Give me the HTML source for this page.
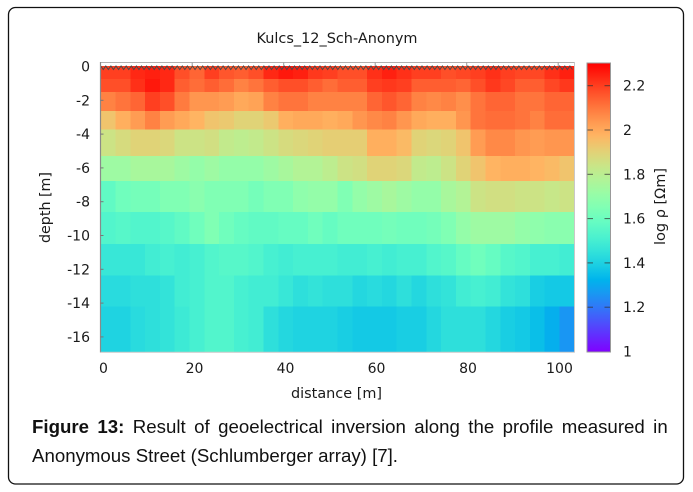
<!DOCTYPE html>
<html>
<head>
<meta charset="utf-8">
<style>
  html,body{margin:0;padding:0;background:#fff;}
  svg{display:block;}
  .tk{font-family:"DejaVu Sans","Liberation Sans",sans-serif;font-size:14px;fill:#1a1a1a;}
  .cap{font-family:"Liberation Sans",Arial,sans-serif;font-size:18px;fill:#111;}
</style>
</head>
<body>
<svg id="s" width="693" height="492" viewBox="0 0 693 492" xmlns="http://www.w3.org/2000/svg">
  <defs>
    <linearGradient id="cb" x1="0" y1="1" x2="0" y2="0">
      <stop offset="0" stop-color="#8000ff"/>
      <stop offset="0.05" stop-color="#6628fe"/>
      <stop offset="0.1" stop-color="#4d4ffc"/>
      <stop offset="0.15" stop-color="#3374f8"/>
      <stop offset="0.2" stop-color="#1a96f2"/>
      <stop offset="0.25" stop-color="#00b4ec"/>
      <stop offset="0.3" stop-color="#1acee3"/>
      <stop offset="0.35" stop-color="#33e3d9"/>
      <stop offset="0.4" stop-color="#4df2ce"/>
      <stop offset="0.45" stop-color="#66fcc2"/>
      <stop offset="0.5" stop-color="#80ffb4"/>
      <stop offset="0.55" stop-color="#99fca5"/>
      <stop offset="0.6" stop-color="#b3f296"/>
      <stop offset="0.65" stop-color="#cce385"/>
      <stop offset="0.7" stop-color="#e6ce74"/>
      <stop offset="0.75" stop-color="#ffb462"/>
      <stop offset="0.8" stop-color="#ff964f"/>
      <stop offset="0.85" stop-color="#ff743b"/>
      <stop offset="0.9" stop-color="#ff4f28"/>
      <stop offset="0.95" stop-color="#ff2814"/>
      <stop offset="1" stop-color="#ff0000"/>
    </linearGradient>
  </defs>
  <rect x="0" y="0" width="693" height="492" fill="#fff"/>
  <!-- outer rounded frame -->
  <rect x="8.5" y="7.5" width="675" height="476.5" rx="7" ry="7" fill="none" stroke="#111" stroke-width="1.3"/>

  <!-- title -->
  <text class="tk" x="337" y="43" text-anchor="middle" textLength="161" lengthAdjust="spacingAndGlyphs">Kulcs_12_Sch-Anonym</text>

  <!-- heatmap cells -->
  <g id="cells" shape-rendering="crispEdges"></g>

  <!-- top band -->
  <rect x="100.7" y="62.5" width="473.5" height="3.5" fill="#fff"/>
  <line x1="100.5" y1="62.5" x2="574.5" y2="62.5" stroke="#b0b0b0" stroke-width="1"/>
  <polyline id="zig" fill="none" stroke="#4a4a4a" stroke-width="1" points=""/>
  <!-- frame -->
  <line x1="100.5" y1="62" x2="100.5" y2="352.5" stroke="#8a8a8a" stroke-width="1.2"/>
  <line x1="100.5" y1="352.3" x2="574.5" y2="352.3" stroke="#c8c8c8" stroke-width="1"/>
  <line x1="574.5" y1="62" x2="574.5" y2="352.5" stroke="#c8c8c8" stroke-width="1"/>
  <!-- top ticks -->
  <g stroke="#999" stroke-width="1">
    <line x1="192.2" y1="62.5" x2="192.2" y2="66"/>
    <line x1="283.7" y1="62.5" x2="283.7" y2="66"/>
    <line x1="375.2" y1="62.5" x2="375.2" y2="66"/>
    <line x1="466.7" y1="62.5" x2="466.7" y2="66"/>
    <line x1="558.2" y1="62.5" x2="558.2" y2="66"/>
  </g>
  <!-- left ticks -->
  <g stroke="#777" stroke-width="1">
    <line x1="100.5" y1="100.3" x2="103.5" y2="100.3"/>
    <line x1="100.5" y1="134.1" x2="103.5" y2="134.1"/>
    <line x1="100.5" y1="167.9" x2="103.5" y2="167.9"/>
    <line x1="100.5" y1="201.7" x2="103.5" y2="201.7"/>
    <line x1="100.5" y1="235.5" x2="103.5" y2="235.5"/>
    <line x1="100.5" y1="269.3" x2="103.5" y2="269.3"/>
    <line x1="100.5" y1="303.1" x2="103.5" y2="303.1"/>
    <line x1="100.5" y1="336.9" x2="103.5" y2="336.9"/>
  </g>

  <!-- y tick labels -->
  <g class="tk" text-anchor="end">
    <text x="90" y="71.5">0</text>
    <text x="90" y="105.3">-2</text>
    <text x="90" y="139.1">-4</text>
    <text x="90" y="172.9">-6</text>
    <text x="90" y="206.7">-8</text>
    <text x="90" y="240.5">-10</text>
    <text x="90" y="274.3">-12</text>
    <text x="90" y="308.1">-14</text>
    <text x="90" y="341.9">-16</text>
  </g>
  <text class="tk" transform="translate(50,207.5) rotate(-90)" text-anchor="middle" textLength="71" lengthAdjust="spacingAndGlyphs">depth [m]</text>

  <!-- x tick labels -->
  <g class="tk" text-anchor="middle">
    <text x="103.5" y="373">0</text>
    <text x="194.5" y="373">20</text>
    <text x="285.5" y="373">40</text>
    <text x="376.5" y="373">60</text>
    <text x="468" y="373">80</text>
    <text x="559.5" y="373">100</text>
  </g>
  <text class="tk" x="336.5" y="398" text-anchor="middle" textLength="91" lengthAdjust="spacingAndGlyphs">distance [m]</text>

  <!-- colorbar -->
  <rect x="587" y="63" width="23.5" height="289" fill="url(#cb)" stroke="#999" stroke-width="1"/>
  <g stroke="#333" stroke-width="1" stroke-opacity="0.75">
    <line x1="587.5" y1="85.7" x2="593" y2="85.7"/><line x1="604.5" y1="85.7" x2="610" y2="85.7"/>
    <line x1="587.5" y1="130" x2="593" y2="130"/><line x1="604.5" y1="130" x2="610" y2="130"/>
    <line x1="587.5" y1="174.3" x2="593" y2="174.3"/><line x1="604.5" y1="174.3" x2="610" y2="174.3"/>
    <line x1="587.5" y1="218.6" x2="593" y2="218.6"/><line x1="604.5" y1="218.6" x2="610" y2="218.6"/>
    <line x1="587.5" y1="262.9" x2="593" y2="262.9"/><line x1="604.5" y1="262.9" x2="610" y2="262.9"/>
    <line x1="587.5" y1="307.2" x2="593" y2="307.2"/><line x1="604.5" y1="307.2" x2="610" y2="307.2"/>
  </g>
  <g class="tk">
    <text x="623" y="90.7">2.2</text>
    <text x="623" y="135">2</text>
    <text x="623" y="179.3">1.8</text>
    <text x="623" y="223.6">1.6</text>
    <text x="623" y="267.9">1.4</text>
    <text x="623" y="312.2">1.2</text>
    <text x="623" y="356.5">1</text>
  </g>
  <text class="tk" transform="translate(665,206.5) rotate(-90)" text-anchor="middle" textLength="77" lengthAdjust="spacingAndGlyphs">log ρ [Ωm]</text>

  <!-- caption -->
  <g class="cap">
    <text x="32" y="433" font-weight="bold" textLength="57" lengthAdjust="spacingAndGlyphs">Figure</text>
    <text x="97.4" y="433" font-weight="bold" textLength="27" lengthAdjust="spacingAndGlyphs">13:</text>
    <text x="132.8" y="433" textLength="52.9" lengthAdjust="spacingAndGlyphs">Result</text>
    <text x="194.1" y="433" textLength="15.6" lengthAdjust="spacingAndGlyphs">of</text>
    <text x="218.1" y="433" textLength="104.7" lengthAdjust="spacingAndGlyphs">geoelectrical</text>
    <text x="331.2" y="433" textLength="74.7" lengthAdjust="spacingAndGlyphs">inversion</text>
    <text x="414.3" y="433" textLength="45.6" lengthAdjust="spacingAndGlyphs">along</text>
    <text x="468.3" y="433" textLength="25.9" lengthAdjust="spacingAndGlyphs">the</text>
    <text x="502.6" y="433" textLength="50.8" lengthAdjust="spacingAndGlyphs">profile</text>
    <text x="561.8" y="433" textLength="83" lengthAdjust="spacingAndGlyphs">measured</text>
    <text x="653.2" y="433" textLength="14.5" lengthAdjust="spacingAndGlyphs">in</text>
    <text x="32" y="462" textLength="366" lengthAdjust="spacingAndGlyphs">Anonymous Street (Schlumberger array) [7].</text>
  </g>
</svg>
<script>
(function(){
  var T=[
  [0.92,0.92,0.95,0.96,0.95,0.9,0.87,0.92,0.89,0.88,0.9,0.95,0.97,0.96,0.93,0.92,0.9,0.9,0.94,0.96,0.94,0.92,0.92,0.9,0.91,0.92,0.94,0.92,0.91,0.91,0.94,0.96],
  [0.9,0.9,0.94,0.97,0.95,0.88,0.86,0.88,0.86,0.83,0.85,0.88,0.9,0.9,0.88,0.86,0.88,0.88,0.92,0.93,0.92,0.88,0.88,0.88,0.87,0.9,0.93,0.91,0.88,0.88,0.91,0.93],
  [0.83,0.85,0.87,0.92,0.9,0.84,0.8,0.8,0.79,0.77,0.78,0.83,0.85,0.85,0.83,0.83,0.83,0.83,0.87,0.89,0.87,0.83,0.82,0.83,0.81,0.85,0.87,0.87,0.85,0.85,0.87,0.87],
  [0.72,0.76,0.79,0.83,0.79,0.77,0.75,0.72,0.71,0.69,0.69,0.71,0.76,0.77,0.77,0.76,0.77,0.8,0.82,0.83,0.8,0.77,0.76,0.76,0.8,0.85,0.86,0.86,0.85,0.83,0.86,0.86],
  [0.65,0.67,0.69,0.69,0.68,0.65,0.65,0.66,0.63,0.62,0.63,0.65,0.67,0.68,0.69,0.7,0.7,0.7,0.76,0.76,0.74,0.69,0.68,0.69,0.72,0.79,0.82,0.82,0.8,0.79,0.8,0.8],
  [0.56,0.56,0.58,0.58,0.58,0.56,0.54,0.56,0.54,0.54,0.54,0.56,0.58,0.6,0.6,0.62,0.65,0.66,0.69,0.69,0.68,0.63,0.62,0.65,0.69,0.72,0.75,0.76,0.76,0.75,0.74,0.72],
  [0.44,0.47,0.48,0.48,0.5,0.5,0.52,0.5,0.5,0.5,0.48,0.5,0.5,0.53,0.54,0.54,0.5,0.54,0.56,0.58,0.56,0.54,0.54,0.58,0.6,0.65,0.66,0.66,0.65,0.65,0.64,0.65],
  [0.41,0.42,0.41,0.41,0.42,0.44,0.47,0.5,0.47,0.45,0.44,0.44,0.45,0.45,0.47,0.45,0.47,0.47,0.47,0.48,0.47,0.47,0.48,0.5,0.54,0.56,0.56,0.56,0.54,0.53,0.52,0.52],
  [0.36,0.36,0.36,0.38,0.39,0.38,0.39,0.41,0.42,0.42,0.41,0.39,0.38,0.39,0.39,0.39,0.38,0.38,0.39,0.38,0.39,0.39,0.41,0.42,0.45,0.47,0.45,0.42,0.41,0.39,0.39,0.38],
  [0.33,0.33,0.34,0.34,0.35,0.38,0.39,0.41,0.41,0.39,0.38,0.38,0.36,0.34,0.35,0.34,0.34,0.32,0.33,0.32,0.34,0.32,0.34,0.35,0.38,0.39,0.38,0.35,0.34,0.3,0.29,0.29],
  [0.31,0.31,0.33,0.34,0.35,0.37,0.39,0.41,0.41,0.39,0.38,0.34,0.32,0.31,0.31,0.31,0.3,0.29,0.29,0.29,0.3,0.3,0.32,0.34,0.34,0.34,0.32,0.3,0.29,0.27,0.24,0.2]
  ];
  var Y=[66,79,92,111,129.5,156,181,212,244,275.5,306.5,352];
  var x0=100.7, cw=(574.3-100.7)/32;
  var NS="http://www.w3.org/2000/svg";
  var g=document.getElementById("cells");
  function col(t){
    t=Math.max(0,Math.min(1,t));
    var r=Math.min(1,Math.abs(2*t-0.5)), gg=Math.sin(Math.PI*t), b=Math.cos(Math.PI*t/2);
    function h(v){v=Math.round(Math.max(0,Math.min(1,v))*255);return (v<16?"0":"")+v.toString(16);}
    return "#"+h(r)+h(gg)+h(b);
  }
  for(var i=0;i<11;i++){
    for(var j=0;j<32;j++){
      var r=document.createElementNS(NS,"rect");
      var xa=x0+cw*j, xb=(j==31)?574.3:x0+cw*(j+1)+0.6;
      r.setAttribute("x",xa.toFixed(2));
      r.setAttribute("y",Y[i]);
      r.setAttribute("width",(xb-xa).toFixed(2));
      r.setAttribute("height",(Y[i+1]-Y[i]+(i<10?0.6:0)).toFixed(2));
      r.setAttribute("fill",col(T[i][j]));
      g.appendChild(r);
    }
  }
  var pts=[], p=5.1, x=100.7, k=0;
  while(x<=574.3){ pts.push(x.toFixed(2)+","+(k%2?69.5:66)); x+=p/2; k++; }
  document.getElementById("zig").setAttribute("points",pts.join(" "));
})();
</script>
</body>
</html>
